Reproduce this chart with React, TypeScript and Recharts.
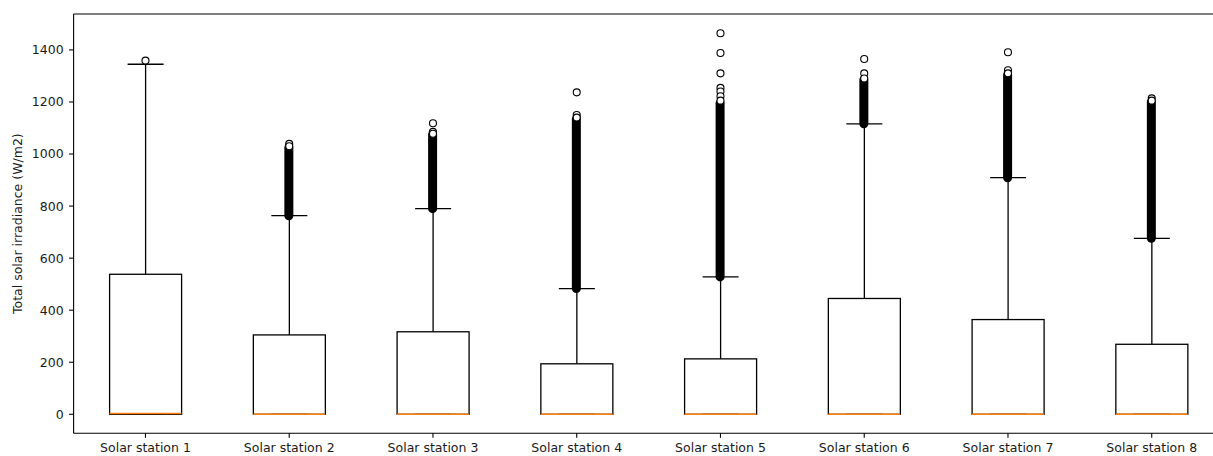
import { ComposedChart, Bar, Scatter, XAxis, YAxis, ReferenceLine } from 'recharts'

// values
const stations = [
  'Solar station 1', 'Solar station 2', 'Solar station 3', 'Solar station 4',
  'Solar station 5', 'Solar station 6', 'Solar station 7', 'Solar station 8',
]
const q1 = [0, 0, 0, 0, 0, 0, 0, 0]
const medians = [3, 0, 0, 0, 0, 0, 0, 0]
const q3 = [538, 305, 317, 194, 213, 445, 364, 269]
const whiskerLow = [0, 0, 0, 0, 0, 0, 0, 0]
const whiskerHigh = [1345, 763, 790, 483, 528, 1116, 909, 676]
// ranges packed so tightly with fliers that they read as a solid column
const denseLow = [null, 763, 790, 483, 528, 1116, 909, 676]
const denseHigh = [null, 1025, 1075, 1135, 1195, 1285, 1305, 1200]
// separately visible fliers
const fliers: number[][] = [
  [1359],
  [1039, 1030],
  [1118, 1085, 1078],
  [1237, 1150, 1140],
  [1464, 1388, 1310, 1254, 1240, 1222, 1205],
  [1365, 1310, 1290],
  [1391, 1322, 1310],
  [1214, 1205],
]
const yTicks = [0, 200, 400, 600, 800, 1000, 1200, 1400]
const yDomain = [-73, 1538]

const rows = stations.map((name, i) => ({
  name,
  box: [q1[i], q3[i]],
  upper: [q3[i], whiskerHigh[i]],
  lower: [whiskerLow[i], q1[i]],
  dense: denseLow[i] == null ? null : [denseLow[i], denseHigh[i]],
}))
const medianPoints = stations.map((name, i) => ({ name, value: medians[i] }))
const flierPoints = stations.flatMap((name, i) => fliers[i].map(value => ({ name, value })))

const INK = '#000'
const TEXT = '#1a1a1a'
const FONT = '"DejaVu Sans", sans-serif'

function BoxShape({ x, y, width, height }: any) {
  return <rect x={x} y={y} width={width} height={height} fill="none" stroke={INK} strokeWidth={1.3} />
}

function UpperWhisker({ x, y, width, height }: any) {
  const cx = x + width / 2
  return (
    <g>
      <line x1={cx} x2={cx} y1={y} y2={y + height} stroke={INK} strokeWidth={1.3} />
      <line x1={x} x2={x + width} y1={y} y2={y} stroke={INK} strokeWidth={1.3} />
    </g>
  )
}

function LowerWhisker({ x, y, width, height }: any) {
  const cx = x + width / 2
  return (
    <g>
      <line x1={cx} x2={cx} y1={y} y2={y + height} stroke={INK} strokeWidth={1.3} />
      <line x1={x} x2={x + width} y1={y + height} y2={y + height} stroke={INK} strokeWidth={1.3} />
    </g>
  )
}

function DenseShape({ x, y, width, height, payload }: any) {
  if (!payload?.dense) return <g />
  return <rect x={x} y={y - width / 2} width={width} height={height + width} rx={width / 2} fill={INK} />
}

function MedianShape({ cx, cy }: any) {
  return <line x1={cx - 36} x2={cx + 36} y1={cy} y2={cy} stroke="#ff7f0e" strokeWidth={1.4} />
}

function FlierShape({ cx, cy }: any) {
  return <circle cx={cx} cy={cy} r={3.5} fill="#fff" stroke={INK} strokeWidth={1.1} />
}

function YLabel({ viewBox }: any) {
  const x = viewBox.x + 18
  const y = viewBox.y + viewBox.height / 2
  return (
    <text x={x} y={y} transform={`rotate(-90 ${x} ${y})`} textAnchor="middle" dominantBaseline="central"
      fontSize={12.5} fill={TEXT} fontFamily={FONT}>
      Total solar irradiance (W/m2)
    </text>
  )
}

export default function App() {
  const tick = { fill: TEXT, fontSize: 12.5, fontFamily: FONT }
  return (
    <div style={{ position: 'absolute', left: 0, top: 0, width: 1213, height: 456, overflow: 'hidden', background: '#fff' }}>
      <ComposedChart width={1240} height={456} data={rows} margin={{ top: 14, right: 16.4, bottom: 0, left: 0 }}>
        <XAxis
          xAxisId="main" dataKey="name" allowDuplicatedCategory={false} interval={0}
          height={22.7} tickSize={4.5} tickMargin={5.5} tick={tick}
          axisLine={{ stroke: INK, strokeWidth: 1.1 }} tickLine={{ stroke: INK, strokeWidth: 1.1 }}
        />
        <XAxis xAxisId="up" dataKey="name" hide height={0} />
        <XAxis xAxisId="low" dataKey="name" hide height={0} />
        <XAxis xAxisId="dense" dataKey="name" hide height={0} />
        <YAxis
          yAxisId={0} type="number" domain={yDomain} ticks={yTicks} allowDataOverflow
          width={73.6} tickSize={4.5} tickMargin={5.5} tick={tick}
          axisLine={{ stroke: INK, strokeWidth: 1.1 }} tickLine={{ stroke: INK, strokeWidth: 1.1 }}
          label={{ content: <YLabel /> }}
        />
        <ReferenceLine xAxisId="main" y={yDomain[1]} stroke={INK} strokeWidth={1.1} />
        <Bar xAxisId="main" dataKey="box" barSize={72} shape={<BoxShape />} isAnimationActive={false} />
        <Bar xAxisId="up" dataKey="upper" barSize={36} shape={<UpperWhisker />} isAnimationActive={false} />
        <Bar xAxisId="low" dataKey="lower" barSize={36} shape={<LowerWhisker />} isAnimationActive={false} />
        <Scatter xAxisId="main" data={medianPoints} dataKey="value" shape={<MedianShape />} isAnimationActive={false} />
        <Bar xAxisId="dense" dataKey="dense" barSize={9} shape={<DenseShape />} isAnimationActive={false} />
        <Scatter xAxisId="main" data={flierPoints} dataKey="value" shape={<FlierShape />} isAnimationActive={false} />
      </ComposedChart>
    </div>
  )
}
